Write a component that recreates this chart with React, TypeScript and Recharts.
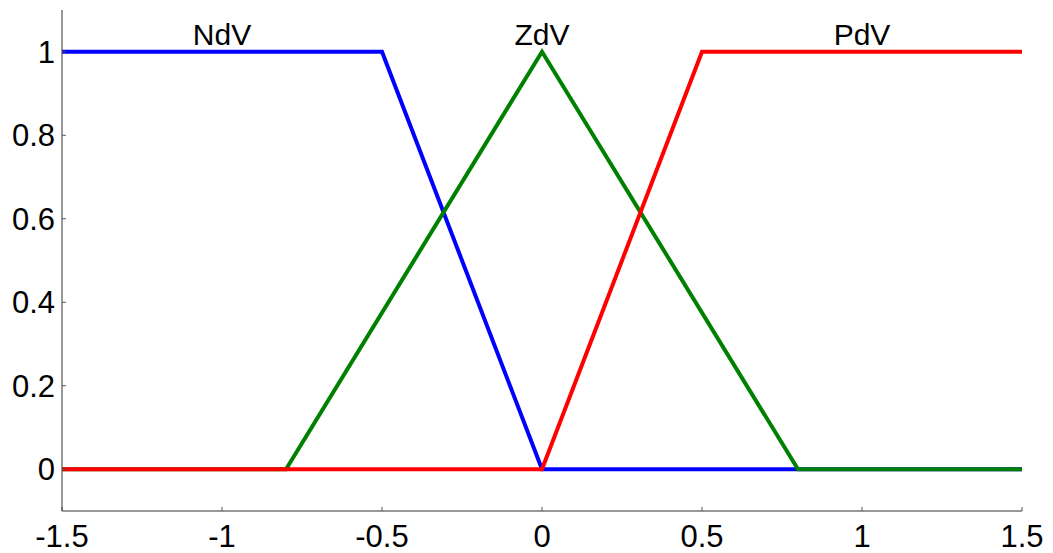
import { LineChart, Line, XAxis, YAxis, ReferenceDot } from "recharts";

// ── membership functions (break points) ────────────────────────────────────
const ndvX = [-1.5, -0.5, 0, 1.5];
const ndvY = [1, 1, 0, 0];

const zdvX = [-1.5, -0.8, 0, 0.8, 1.5];
const zdvY = [0, 0, 1, 0, 0];

const pdvX = [-1.5, 0, 0.5, 1.5];
const pdvY = [0, 0, 1, 1];

const xTicks = [-1.5, -1, -0.5, 0, 0.5, 1, 1.5];
const yTicks = [0, 0.2, 0.4, 0.6, 0.8, 1];

const labels = ["NdV", "ZdV", "PdV"];
const labelX = [-1, 0, 1];

const toPoints = (xs: number[], ys: number[]) => xs.map((x, i) => ({ x, y: ys[i] }));

const FONT = "'Liberation Sans', Arial, sans-serif";
const tickStyle = { fill: "#000", fontSize: 31, fontFamily: FONT };

export default function App() {
  return (
    <div style={{ position: "absolute", left: 0, top: 0, width: 1053, height: 553, background: "#fff" }}>
      <LineChart width={1053} height={553} margin={{ top: 10, right: 31, bottom: 0, left: 0 }}>
        <XAxis
          type="number"
          dataKey="x"
          domain={[-1.5, 1.5]}
          ticks={xTicks}
          allowDataOverflow
          height={42}
          tickSize={-4}
          tickMargin={18}
          tick={tickStyle}
          axisLine={{ stroke: "#333", strokeWidth: 1 }}
          tickLine={{ stroke: "#555", strokeWidth: 1 }}
        />
        <YAxis
          type="number"
          domain={[-0.1, 1.1]}
          ticks={yTicks}
          allowDataOverflow
          width={62}
          tickSize={-4}
          tickMargin={11}
          tick={tickStyle}
          axisLine={{ stroke: "#333", strokeWidth: 1 }}
          tickLine={{ stroke: "#555", strokeWidth: 1 }}
        />
        <Line
          data={toPoints(ndvX, ndvY)}
          dataKey="y"
          type="linear"
          stroke="#0000ff"
          strokeWidth={4}
          dot={false}
          isAnimationActive={false}
        />
        <Line
          data={toPoints(zdvX, zdvY)}
          dataKey="y"
          type="linear"
          stroke="#008000"
          strokeWidth={4}
          dot={false}
          isAnimationActive={false}
        />
        <Line
          data={toPoints(pdvX, pdvY)}
          dataKey="y"
          type="linear"
          stroke="#ff0000"
          strokeWidth={4}
          dot={false}
          isAnimationActive={false}
        />
        {labels.map((name, i) => (
          <ReferenceDot
            key={name}
            x={labelX[i]}
            y={1}
            r={0}
            fill="none"
            stroke="none"
            ifOverflow="visible"
            label={{ value: name, position: "top", offset: 7, fill: "#000", fontSize: 30, fontFamily: FONT }}
          />
        ))}
      </LineChart>
    </div>
  );
}
